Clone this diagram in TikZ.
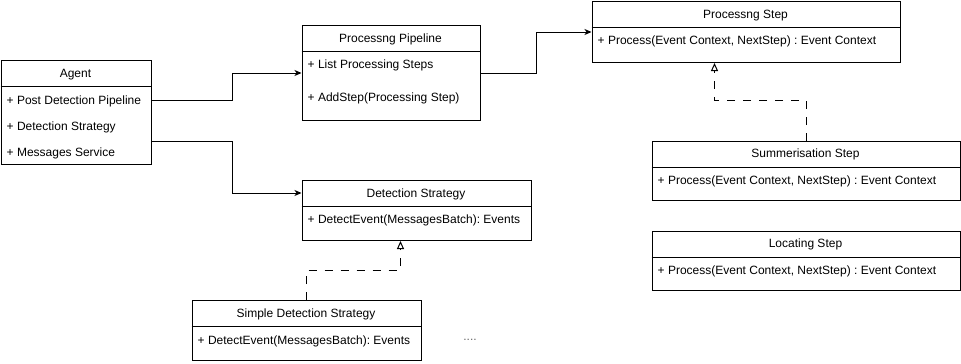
\documentclass[tikz,border=0pt]{standalone}
\usepackage{fontspec}
\setmainfont{Liberation Sans}
\usetikzlibrary{arrows.meta,calc}
\frenchspacing
\begin{document}
\begin{tikzpicture}[x=1pt,y=-1pt,
  every node/.style={font=\fontsize{12}{14}\selectfont\frenchspacing},
  classbox/.style={draw=black, line width=1pt, fill=white, inner sep=0pt, anchor=north west},
  sep/.style={draw=black, line width=1pt},
  title/.style={anchor=mid, inner sep=0pt, yshift=-1.5pt},
  member/.style={anchor=mid west, inner sep=0pt, yshift=-1.5pt},
  assoc/.style={draw=black, line width=1pt, -{Stealth[length=7pt,width=6pt,inset=2pt]}},
  realize/.style={draw=black, line width=1pt, dash pattern=on 8pt off 8pt, -{Triangle[open,length=8pt,width=7pt]}}]
\useasboundingbox (0,0) rectangle (961,364);

% Agent
\node[classbox, minimum width=150pt, minimum height=104pt] (agent) at (0.5,60) {};
\draw[sep] (0.5,86) -- (150.5,86);
\node[title] (agentT) at (75.5,73) {Agent};
\node[member] (agentA) at (6.5,100) {+ Post Detection Pipeline};
\node[member] (agentB) at (6.5,126) {+ Detection Strategy};
\node[member] (agentC) at (6.5,152) {+ Messages Service};

% Processing pipeline
\node[classbox, minimum width=178pt, minimum height=95pt] (pipe) at (301.5,25) {};
\draw[sep] (301.5,51) -- (479.5,51);
\node[title] (pipeT) at (390.5,38) {Processng Pipeline};
\node[member] (pipeA) at (307.5,64) {+ List Processing Steps};
\node[member] (pipeB) at (307.5,97.5) {+ AddStep(Processing Step)};

% Processing step
\node[classbox, minimum width=308pt, minimum height=61pt] (step) at (591.5,1) {};
\draw[sep] (591.5,27) -- (899.5,27);
\node[title] (stepT) at (745.5,14) {Processng Step};
\node[member] (stepA) at (597.5,40) {+ Process(Event Context, NextStep) : Event Context};

% Summerisation step
\node[classbox, minimum width=308pt, minimum height=59pt] (summ) at (651.5,141) {};
\draw[sep] (651.5,167) -- (959.5,167);
\node[title] (summT) at (805.5,153) {Summerisation Step};
\node[member] (summA) at (657.5,180) {+ Process(Event Context, NextStep) : Event Context};

% Locating step
\node[classbox, minimum width=308pt, minimum height=59pt] (loc) at (651.5,231) {};
\draw[sep] (651.5,257) -- (959.5,257);
\node[title] (locT) at (805.5,243) {Locating Step};
\node[member] (locA) at (657.5,270) {+ Process(Event Context, NextStep) : Event Context};

% Detection strategy
\node[classbox, minimum width=229pt, minimum height=60pt] (det) at (301.5,180) {};
\draw[sep] (301.5,206) -- (530.5,206);
\node[title] (detT) at (416,193) {Detection Strategy};
\node[member] (detA) at (307.5,219) {+ DetectEvent(MessagesBatch): Events};

% Simple detection strategy
\node[classbox, minimum width=229pt, minimum height=60pt] (simple) at (191.5,300) {};
\draw[sep] (191.5,326) -- (420.5,326);
\node[title] (simpleT) at (306,313) {Simple Detection Strategy};
\node[member] (simpleA) at (197.5,340) {+ DetectEvent(MessagesBatch): Events};

\node[title, text=black!60] (more) at (470,336) {....};

% Associations
\draw[assoc] (agent.east |- 0,100) -- ++(81,0) |- (pipe.west);
\draw[assoc] ($(agent.north east)+(0,81)$) -- ++(81,0) |- (det.west |- 0,193);
\draw[assoc] (pipe.east) -- ++(56,0) |- (step.west);

% Realisations
\draw[realize] (summ.north) -- ++(0,-41) -| ($(step.south west)+(123,0)$);
\draw[realize] (simple.north) -- ++(0,-30) -| ($(det.south west)+(99,0)$);
\end{tikzpicture}
\end{document}
